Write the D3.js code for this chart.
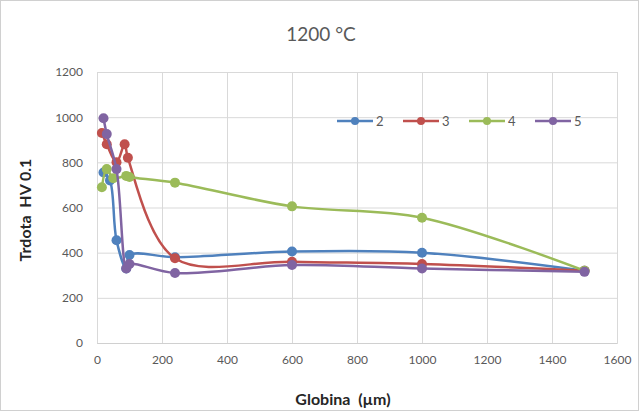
<!DOCTYPE html>
<html>
<head>
<meta charset="utf-8">
<script src="https://cdn.jsdelivr.net/npm/d3@7"></script>
<style>
  body { margin: 0; background: #fff; }
  text { font-family: Lato, "Open Sans", sans-serif; }
</style>
</head>
<body>
<script>
// data
var depth2 = [20, 40, 60, 90, 100, 240, 600, 1000, 1500];
var hv2    = [755, 720, 455, 330, 390, 380, 405, 400, 320];
var depth3 = [15, 30, 60, 85, 95, 240, 600, 1000, 1500];
var hv3    = [930, 880, 800, 880, 820, 375, 360, 350, 320];
var depth4 = [15, 30, 50, 90, 100, 240, 600, 1000, 1500];
var hv4    = [690, 770, 730, 740, 735, 710, 605, 555, 320];
var depth5 = [20, 30, 60, 90, 100, 240, 600, 1000, 1500];
var hv5    = [995, 925, 770, 330, 350, 310, 345, 330, 315];
var seriesNames = ["2", "3", "4", "5"];
var colors = ["#4F81BD", "#C0504D", "#9BBB59", "#8064A2"];
var xTicks = [0, 200, 400, 600, 800, 1000, 1200, 1400, 1600];
var yTicks = [0, 200, 400, 600, 800, 1000, 1200];

var series = [
  {name: seriesNames[0], xs: depth2, ys: hv2},
  {name: seriesNames[1], xs: depth3, ys: hv3},
  {name: seriesNames[2], xs: depth4, ys: hv4},
  {name: seriesNames[3], xs: depth5, ys: hv5}
];

var W = 640, H = 412;
var margin = {top: 72, right: 23, bottom: 69, left: 97},
    width = W - margin.left - margin.right,
    height = H - margin.top - margin.bottom;

var svg = d3.select("body").append("svg")
    .attr("width", W)
    .attr("height", H);

// chart border
svg.append("rect")
    .attr("x", 0.5).attr("y", 0.5)
    .attr("width", W - 2).attr("height", H - 2)
    .attr("fill", "#fff")
    .attr("stroke", "#d0d0d0");

var g = svg.append("g")
    .attr("transform", "translate(" + margin.left + "," + margin.top + ")");

var x = d3.scaleLinear().domain([0, 1600]).range([0, width]);
var y = d3.scaleLinear().domain([0, 1200]).range([height, 0]);
var fmt = d3.format("d");

// gridlines
g.append("g")
    .call(d3.axisLeft(y).tickValues(yTicks).tickSize(-width).tickFormat(""))
    .call(function(s) {
      s.select(".domain").remove();
      s.selectAll("line").attr("stroke", "#d9d9d9");
    });
g.append("g")
    .attr("transform", "translate(0," + height + ")")
    .call(d3.axisBottom(x).tickValues(xTicks).tickSize(-height).tickFormat(""))
    .call(function(s) {
      s.select(".domain").attr("stroke", "#d0d0d0");
      s.selectAll("line").attr("stroke", "#d9d9d9");
    });

// tick labels
g.append("g")
    .call(d3.axisLeft(y).tickValues(yTicks).tickFormat(fmt).tickSize(0).tickPadding(14))
    .call(function(s) {
      s.select(".domain").remove();
      s.selectAll("text").attr("fill", "#595959").style("font-size", "12px");
    });
g.append("g")
    .attr("transform", "translate(0," + height + ")")
    .call(d3.axisBottom(x).tickValues(xTicks).tickFormat(fmt).tickSize(0).tickPadding(12))
    .call(function(s) {
      s.select(".domain").remove();
      s.selectAll("text").attr("fill", "#595959").style("font-size", "12px");
    });

// lines and markers
var line = d3.line()
    .x(function(d) { return x(d[0]); })
    .y(function(d) { return y(d[1]); })
    .curve(d3.curveCatmullRom.alpha(0.5));

series.forEach(function(s, i) {
  var pts = s.xs.map(function(v, j) { return [v, s.ys[j]]; });
  g.append("path")
      .datum(pts)
      .attr("fill", "none")
      .attr("stroke", colors[i])
      .attr("stroke-width", 2.5)
      .attr("d", line);
  g.selectAll(".dot" + i)
      .data(pts)
      .enter().append("circle")
      .attr("cx", function(d) { return x(d[0]); })
      .attr("cy", function(d) { return y(d[1]); })
      .attr("r", 5)
      .attr("fill", colors[i]);
});

// legend
var legend = svg.append("g").attr("transform", "translate(337,121)");
series.forEach(function(s, i) {
  var lg = legend.append("g").attr("transform", "translate(" + (i * 66) + ",0)");
  lg.append("line").attr("x1", 0).attr("x2", 36)
      .attr("stroke", colors[i]).attr("stroke-width", 2.5);
  lg.append("circle").attr("cx", 18).attr("r", 4).attr("fill", colors[i]);
  lg.append("text").attr("x", 39).attr("y", 5)
      .attr("fill", "#595959").style("font-size", "13px").text(s.name);
});

// title
svg.append("text")
    .attr("x", 321).attr("y", 41)
    .attr("text-anchor", "middle")
    .attr("fill", "#595959")
    .style("font-size", "19px")
    .text("1200 °C");

// axis titles
svg.append("text")
    .attr("transform", "translate(31,210) rotate(-90)")
    .attr("text-anchor", "middle")
    .attr("fill", "#262626")
    .style("font-size", "16px")
    .style("font-weight", "bold")
    .style("white-space", "pre")
    .text("Trdota  HV 0.1");

svg.append("text")
    .attr("x", 343).attr("y", 405)
    .attr("text-anchor", "middle")
    .attr("fill", "#262626")
    .style("font-size", "16px")
    .style("font-weight", "bold")
    .style("white-space", "pre")
    .text("Globina  (µm)");
</script>
</body>
</html>
